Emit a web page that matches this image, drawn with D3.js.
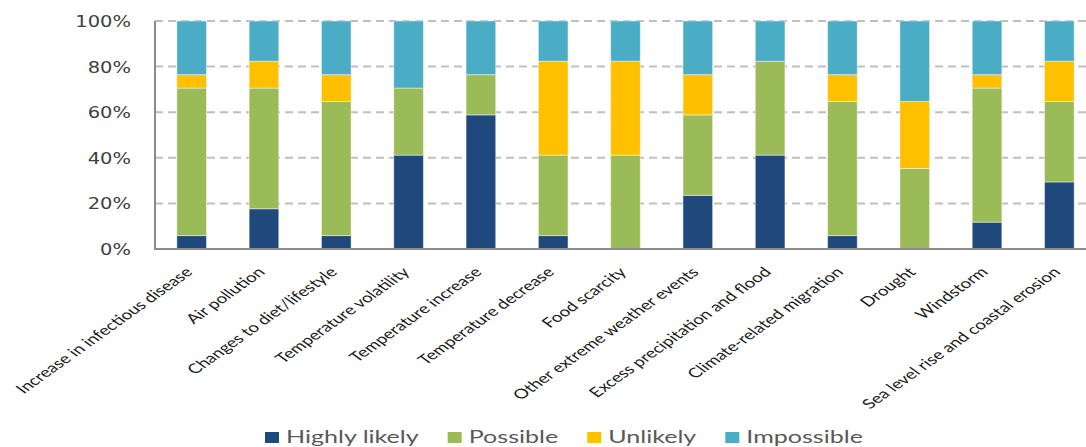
<!DOCTYPE html>
<html>
<head>
<meta charset="utf-8">
<script src="https://cdn.jsdelivr.net/npm/d3@7"></script>
<style>
  html, body { margin: 0; padding: 0; background: #fff; }
  svg { display: block; }
</style>
</head>
<body>
<svg id="chart" width="1086" height="447"></svg>
<script>
// Survey responses (17 respondents) per climate-related risk
const categories = [
  "Increase in infectious disease", "Air pollution", "Changes to diet/lifestyle",
  "Temperature volatility", "Temperature increase", "Temperature decrease",
  "Food scarcity", "Other extreme weather events", "Excess precipitation and flood",
  "Climate-related migration", "Drought", "Windstorm", "Sea level rise and coastal erosion"
];
const highlyLikely = [1, 3, 1, 7, 10, 1, 0, 4, 7, 1, 0, 2, 5];
const possible     = [11, 9, 10, 5, 3, 6, 7, 6, 7, 10, 6, 10, 6];
const unlikely     = [1, 2, 2, 0, 0, 7, 7, 3, 0, 2, 5, 1, 3];
const impossible   = [4, 3, 4, 5, 4, 3, 3, 4, 3, 4, 6, 4, 3];
const seriesNames  = ["Highly likely", "Possible", "Unlikely", "Impossible"];
const seriesColors = ["#1F497D", "#9BBB59", "#FFC000", "#4BACC6"];
const yTicks       = [0, 0.2, 0.4, 0.6, 0.8, 1];

const svg = d3.select("#chart");
const W = 1086, H = 447;

// Horizontal stretch applied to text glyphs
const SX_AXIS = 1.3, SX_CAT = 1.4, SX_LEG = 1.52;

const rows = categories.map((c, i) => ({
  category: c,
  "Highly likely": highlyLikely[i],
  "Possible": possible[i],
  "Unlikely": unlikely[i],
  "Impossible": impossible[i]
}));

const stacked = d3.stack().keys(seriesNames).offset(d3.stackOffsetExpand)(rows);

const x = d3.scaleBand().domain(categories).range([155.5, 1095.5])
  .paddingInner(0.59).paddingOuter(0.295);
const y = d3.scaleLinear().domain([0, 1]).range([249, 21]);
const color = d3.scaleOrdinal().domain(seriesNames).range(seriesColors);

// Dashed gridlines
svg.append("g").selectAll("line").data(yTicks.filter(t => t > 0)).join("line")
  .attr("x1", 155).attr("x2", W)
  .attr("y1", d => y(d)).attr("y2", d => y(d))
  .attr("stroke", "#bfbfbf").attr("stroke-width", 2)
  .attr("stroke-dasharray", "8,5");

// Bars
svg.append("g").selectAll("g").data(stacked).join("g")
  .attr("fill", d => color(d.key))
  .selectAll("rect").data(d => d).join("rect")
  .attr("x", d => x(d.data.category))
  .attr("width", x.bandwidth())
  .attr("y", d => y(d[1]))
  .attr("height", d => y(d[0]) - y(d[1]))
  .attr("stroke", "rgba(255,255,255,0.45)")
  .attr("stroke-width", 1);

// Axis lines
svg.append("line").attr("x1", 155).attr("x2", 155).attr("y1", 21).attr("y2", 250)
  .attr("stroke", "#8c8c8c").attr("stroke-width", 2);
svg.append("line").attr("x1", 154).attr("x2", W).attr("y1", 249).attr("y2", 249)
  .attr("stroke", "#8c8c8c").attr("stroke-width", 2);

// Y tick labels
svg.append("g").selectAll("text").data(yTicks).join("text")
  .attr("transform", d => `translate(131,${y(d) + 6}) scale(${SX_AXIS},1)`)
  .attr("text-anchor", "end")
  .attr("font-family", "DejaVu Sans, Verdana, sans-serif")
  .attr("font-size", 15)
  .attr("fill", "#404040")
  .text(d3.format(".0%"));

// Category labels, rotated
svg.append("g").selectAll("text").data(categories).join("text")
  .attr("transform", d => `translate(${x(d) + x.bandwidth() / 2 + 2},273) scale(${SX_CAT},1) rotate(-45)`)
  .attr("text-anchor", "end")
  .attr("font-family", "Lato, 'Open Sans', sans-serif")
  .attr("font-size", 13.5)
  .attr("fill", "#1a1a1a")
  .text(d => d);

// Legend
const leg = svg.append("g");
let lx = 265;
seriesNames.forEach((name, i) => {
  leg.append("rect").attr("x", lx).attr("y", 432).attr("width", 14).attr("height", 11)
    .attr("fill", seriesColors[i]);
  const t = leg.append("text")
    .attr("transform", `translate(${lx + 21},443) scale(${SX_LEG},1)`)
    .attr("font-family", "Lato, 'Open Sans', sans-serif")
    .attr("font-size", 16.5)
    .attr("fill", "#595959")
    .text(name);
  const w = t.node().getComputedTextLength() * SX_LEG;
  lx += 21 + w + 29;
});
</script>
</body>
</html>
